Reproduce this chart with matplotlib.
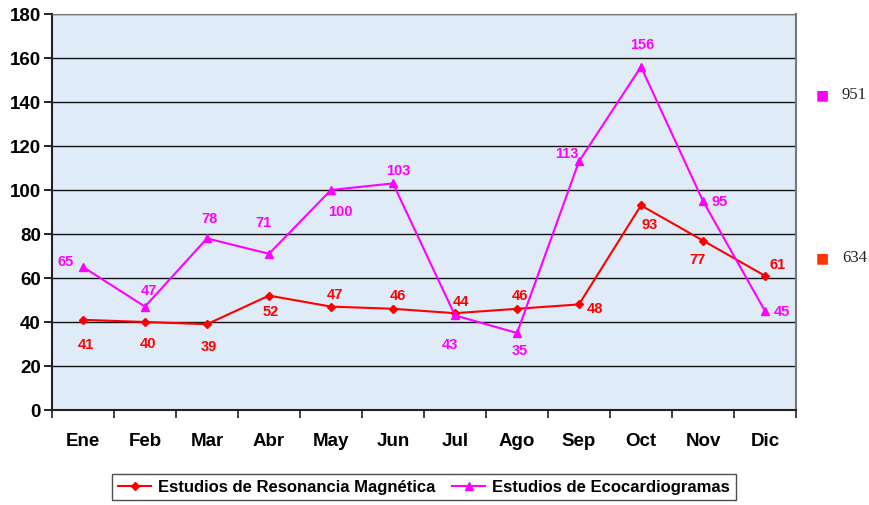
import matplotlib.pyplot as plt
from matplotlib.ticker import FixedLocator, NullFormatter

months = ["Ene", "Feb", "Mar", "Abr", "May", "Jun", "Jul", "Ago", "Sep", "Oct", "Nov", "Dic"]
resonancia = [41, 40, 39, 52, 47, 46, 44, 46, 48, 93, 77, 61]
ecocardio = [65, 47, 78, 71, 100, 103, 43, 35, 113, 156, 95, 45]
total_eco = "951"
total_res = "634"

# label offsets in pixels (dx right, dy down)
res_off = [(3, 24), (3, 21), (2, 22), (2, 15), (4, -13), (5, -14), (6, -12), (3, -14),
           (16, 4), (9, 19), (-5, 18), (13, -12)]
eco_off = [(-17, -6), (4, -17), (3, -20), (-6, -32), (9, 21), (5, -13), (-5, 29), (3, 17),
           (-12, -8), (1, -23), (17, 0), (17, 0)]

plt.rcParams["font.family"] = "Liberation Sans"

fig = plt.figure(figsize=(8.69, 5.06), dpi=100)
ax = fig.add_axes([52 / 869, 95 / 506, 744 / 869, 396 / 506])
ax.set_facecolor("#dfecf7")

x = list(range(len(months)))
l1, = ax.plot(x, resonancia, color="#ff0000", lw=1.5, marker="D", ms=4.5,
              label="Estudios de Resonancia Magnética", zorder=3)
l2, = ax.plot(x, ecocardio, color="#ff00ff", lw=1.5, marker="^", ms=6,
              label="Estudios de Ecocardiogramas", zorder=3)

for i, v in enumerate(resonancia):
    dx, dy = res_off[i]
    ax.annotate(str(v), (i, v), xytext=(dx * 0.72, -dy * 0.72), textcoords="offset points",
                ha="center", va="center", color="#ff0000", fontsize=10.5, fontweight="bold",
                zorder=4)
for i, v in enumerate(ecocardio):
    dx, dy = eco_off[i]
    ax.annotate(str(v), (i, v), xytext=(dx * 0.72, -dy * 0.72), textcoords="offset points",
                ha="center", va="center", color="#ff00ff", fontsize=10.5, fontweight="bold",
                zorder=4)

ax.set_xlim(-0.5, 11.5)
ax.set_ylim(0, 180)
ax.set_yticks(range(0, 181, 20))
ax.yaxis.grid(True, color="#111111", lw=1.0)
ax.set_axisbelow(True)

ax.set_xticks(x)
ax.set_xticklabels(months)
ax.xaxis.set_minor_locator(FixedLocator([i - 0.5 for i in range(13)]))
ax.xaxis.set_minor_formatter(NullFormatter())
ax.tick_params(axis="x", which="major", length=0, pad=16, labelsize=13.5)
ax.tick_params(axis="x", which="minor", length=6, width=1.2, color="#222222")
ax.tick_params(axis="y", length=6, width=1.2, labelsize=13.5, pad=2)
for lab in ax.get_xticklabels() + ax.get_yticklabels():
    lab.set_fontweight("bold")

ax.spines["left"].set_color("#222222")
ax.spines["left"].set_linewidth(1.5)
ax.spines["bottom"].set_color("#222222")
ax.spines["bottom"].set_linewidth(1.5)
ax.spines["top"].set_color("#777777")
ax.spines["right"].set_color("#777777")
ax.spines["right"].set_linewidth(1.5)

leg = fig.legend(handles=[l1, l2], loc="center", bbox_to_anchor=(424 / 869, 1 - 488 / 506),
                 ncol=2, frameon=True, fancybox=False, edgecolor="#222222",
                 prop={"weight": "bold", "size": 12}, handlelength=2.0,
                 handletextpad=0.4, columnspacing=1.0, borderpad=0.35)
leg.get_frame().set_linewidth(1.0)

# totals on the right
fig.text(822 / 869, 1 - 95 / 506, "■", color="#ff00ff", fontsize=10, ha="center", va="center",
         family="DejaVu Sans")
fig.text(842 / 869, 1 - 95 / 506, total_eco, color="#222222", fontsize=12, ha="left",
         va="center", family="Liberation Serif")
fig.text(822 / 869, 1 - 258 / 506, "■", color="#ff3300", fontsize=10, ha="center", va="center",
         family="DejaVu Sans")
fig.text(842 / 869, 1 - 258 / 506, total_res, color="#222222", fontsize=12, ha="left",
         va="center", family="Liberation Serif")

fig.savefig("out.png", dpi=100)
